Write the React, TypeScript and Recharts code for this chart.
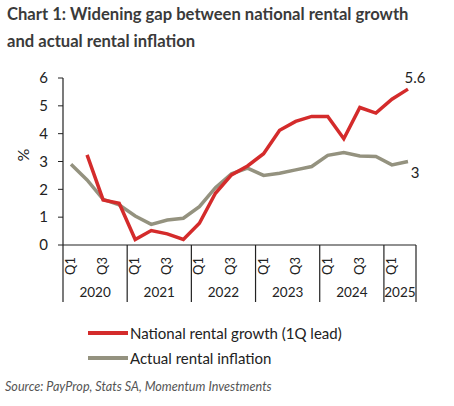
import React from "react";
import { LineChart, Line, XAxis, YAxis, LabelList } from "recharts";

const years = ["2020","2020","2020","2020","2021","2021","2021","2021","2022","2022","2022","2022","2023","2023","2023","2023","2024","2024","2024","2024","2025","2025"];
const quarters = ["Q1","Q2","Q3","Q4","Q1","Q2","Q3","Q4","Q1","Q2","Q3","Q4","Q1","Q2","Q3","Q4","Q1","Q2","Q3","Q4","Q1","Q2"];
const nationalRentalGrowth = [null,3.24,1.62,1.5,0.2,0.52,0.4,0.2,0.78,1.86,2.52,2.84,3.28,4.12,4.44,4.62,4.62,3.82,4.94,4.74,5.24,5.6];
const actualRentalInflation = [2.9,2.34,1.64,1.44,1.04,0.74,0.9,0.96,1.38,2.06,2.56,2.76,2.5,2.58,2.7,2.82,3.22,3.32,3.2,3.18,2.88,3.0];
const yTicks = [0,1,2,3,4,5,6];
const legendItems = ["National rental growth (1Q lead)", "Actual rental inflation"];

const data = quarters.map((q, i) => ({
  key: years[i] + q,
  q,
  year: years[i],
  national: nationalRentalGrowth[i],
  actual: actualRentalInflation[i],
}));

const W = 454;
const CH = 310;
const Y_W = 63;
const M_RIGHT = 38;
const M_TOP = 78;
const X_H = 65;
const PLOT_BOTTOM = CH - X_H;
const BAND = (W - Y_W - M_RIGHT) / data.length;
const FONT = "Lato, 'Open Sans', sans-serif";
const RED = "#d42b2b";
const GRAY = "#94927f";

const XTick = (props: any) => {
  const { x, payload } = props;
  const i = payload.index;
  const d = data[i];
  const top = PLOT_BOTTOM;
  const els: any[] = [];
  if (d.q === "Q1" || d.q === "Q3") {
    els.push(
      <text key="q" x={0} y={0} transform={`translate(${x + 4},${top + 12}) rotate(-90)`} textAnchor="end" fontSize={13} fill="#222" fontFamily={FONT}>{d.q}</text>
    );
  }
  const first = i === 0 || data[i - 1].year !== d.year;
  if (first) {
    els.push(<line key="l" x1={x - BAND / 2} x2={x - BAND / 2} y1={top} y2={top + 57} stroke="#222" strokeWidth={1.2} />);
    const n = data.filter((e) => e.year === d.year).length;
    const cx = x - BAND / 2 + (n * BAND) / 2;
    els.push(<text key="y" x={cx} y={top + 52} textAnchor="middle" fontSize={13.5} fill="#222" fontFamily={FONT}>{d.year}</text>);
  }
  if (i === data.length - 1) {
    els.push(<line key="e" x1={x + BAND / 2} x2={x + BAND / 2} y1={top} y2={top + 57} stroke="#222" strokeWidth={1.2} />);
  }
  return <g>{els}</g>;
};

const LastLabel = (offsetY: number) => (props: any) => {
  const { x, y, index, value } = props;
  if (index !== data.length - 1) return null;
  return <text x={x + 7} y={y + offsetY} textAnchor="middle" fontSize={15} fill="#222" fontFamily={FONT}>{String(value)}</text>;
};

export default function App() {
  return (
    <div style={{ position: "absolute", left: 0, top: 0, width: W, height: 406, background: "#fff", overflow: "hidden" }}>
      <div style={{ position: "absolute", left: 7, top: 1, fontFamily: FONT, fontWeight: 700, fontSize: 16.6, color: "#3a3a3a", lineHeight: "27px", whiteSpace: "nowrap" }}>
        Chart 1: Widening gap between national rental growth<br />and actual rental inflation
      </div>
      <div style={{ position: "absolute", left: 0, top: 0 }}>
        <LineChart width={W} height={CH} data={data} margin={{ top: M_TOP, right: M_RIGHT, bottom: 0, left: 0 }}>
          <XAxis dataKey="key" interval={0} height={X_H} padding={{ left: BAND / 2, right: BAND / 2 }} tick={<XTick />} tickLine={false} axisLine={{ stroke: "#222", strokeWidth: 1.2 }} />
          <YAxis width={Y_W} domain={[0, 6]} ticks={yTicks} interval={0} tickSize={5} tickMargin={10} axisLine={{ stroke: "#222", strokeWidth: 1.2 }} tickLine={{ stroke: "#222" }} tick={{ fontSize: 15, fill: "#222", fontFamily: FONT }}
            label={{ value: "%", angle: -90, position: "insideLeft", offset: 23, style: { fontSize: 16, fill: "#222", fontFamily: FONT } }} />
          <Line dataKey="actual" stroke={GRAY} strokeWidth={3.5} dot={false} isAnimationActive={false}>
            <LabelList dataKey="actual" content={LastLabel(16)} />
          </Line>
          <Line dataKey="national" stroke={RED} strokeWidth={3.5} dot={false} isAnimationActive={false} connectNulls={false}>
            <LabelList dataKey="national" content={LastLabel(-6)} />
          </Line>
        </LineChart>
      </div>
      <div style={{ position: "absolute", left: 88, top: 320, fontFamily: FONT, fontSize: 15, color: "#222" }}>
        {legendItems.map((t, k) => (
          <div key={t} style={{ display: "flex", alignItems: "center", height: 25 }}>
            <div style={{ width: 40, height: 4, background: k === 0 ? RED : GRAY, marginRight: 2 }} />
            <span>{t}</span>
          </div>
        ))}
      </div>
      <div style={{ position: "absolute", left: 5, top: 379, fontFamily: FONT, fontStyle: "italic", fontSize: 12.6, color: "#555", whiteSpace: "nowrap" }}>
        Source: PayProp, Stats SA, Momentum Investments
      </div>
    </div>
  );
}
